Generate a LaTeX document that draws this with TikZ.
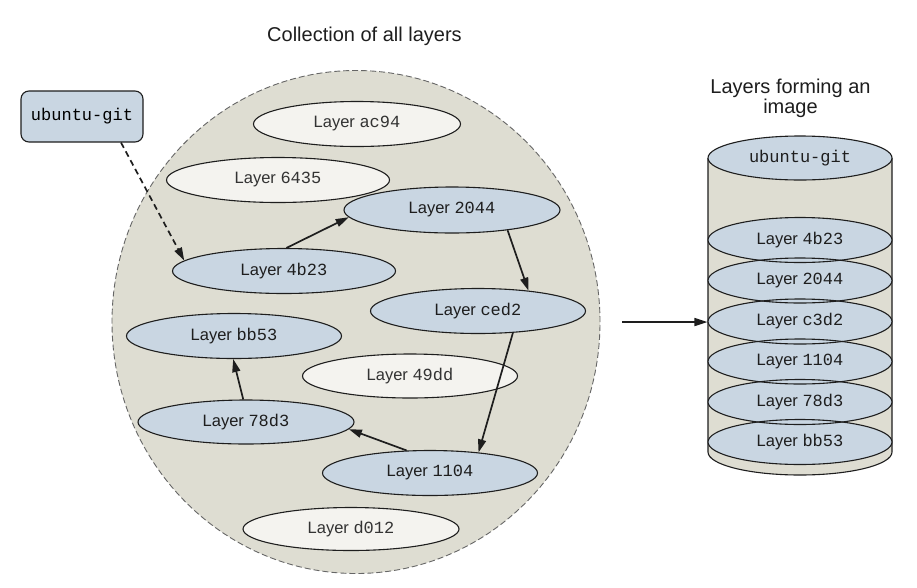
\documentclass[tikz,border=0pt]{standalone}
\usepackage{fontspec}
\setmainfont{Liberation Sans}
\newfontfamily\codefont{Liberation Mono}
\usetikzlibrary{shapes.geometric,arrows.meta}
\definecolor{lblue}{HTML}{C9D6E2}
\definecolor{offw}{HTML}{F4F3EF}
\definecolor{poolc}{HTML}{DEDDD2}
\definecolor{bd}{HTML}{1E1E1E}
\newcommand{\lid}[1]{{\codefont\fontsize{17}{18}\selectfont #1}}
\begin{document}
\begin{tikzpicture}[x=1pt,y=-1pt,
  lay/.style={ellipse,draw=bd,line width=1.1pt,inner sep=0pt,minimum width=215pt,minimum height=45pt,fill=lblue,text=bd,font=\fontsize{16.5}{18}\selectfont},
  other/.style={lay,fill=offw,text=black!80},
  cyl/.style={lay,draw=none,minimum width=184pt,minimum height=45pt},
  arr/.style={draw=bd,line width=1.7pt,-{Triangle[length=13pt,width=8pt]}},
  title/.style={font=\fontsize{20}{20}\selectfont,text=bd,inner sep=0pt}]
\useasboundingbox[fill=white] (0,0) rectangle (917,587);

% titles
\node[title,anchor=base] (t1) at (364.5,41) {Collection of all layers};
\node[title,align=center,anchor=north] (t2) at (790.5,79) {Layers forming an\\image};

% pool of layers
\node[ellipse,fill=poolc,draw=black!60,dash pattern=on 6pt off 3pt,line width=0.9pt,
      minimum width=488pt,minimum height=503pt,inner sep=0pt] (pool) at (356,322) {};

% ubuntu-git box
\node[draw=bd,fill=lblue,line width=1.1pt,rounded corners=8pt,minimum width=122pt,minimum height=51pt,inner sep=0pt] (ug) at (82,116.5) {\lid{ubuntu-git}};

% layers in the pool
\node[other,minimum width=207pt] (lac94) at (357,124) {Layer \lid{ac94}};
\node[other,minimum width=223pt] (l6435) at (278,180) {Layer \lid{6435}};
\node[lay,minimum width=216pt,minimum height=46pt] (l2044) at (452,210) {Layer \lid{2044}};
\node[lay,minimum width=223pt] (l4b23) at (284,271) {Layer \lid{4b23}};
\node[lay] (lced2) at (478,311) {Layer \lid{ced2}};
\node[lay] (lbb53) at (234,336) {Layer \lid{bb53}};
\node[other,minimum height=44pt] (l49dd) at (410,376) {Layer \lid{49dd}};
\node[lay,minimum width=216pt,minimum height=44pt] (l78d3) at (246,422) {Layer \lid{78d3}};
\node[lay] (l1104) at (430,473) {Layer \lid{1104}};
\node[other,minimum width=216pt,minimum height=43pt] (ld012) at (351,529) {Layer \lid{d012}};

% arrows in the pool
\draw[arr,dash pattern=on 6pt off 4pt] ([xshift=39pt]ug.south) -- (l4b23.174);
\draw[arr] (l4b23.84) -- (l2044.184);
\draw[arr] (l2044.-20) -- (lced2.22);
\draw[arr] (lced2.-32) -- (l1104.23);
\draw[arr] (l1104.136) -- (l78d3.-4.4);
\draw[arr] (l78d3.97) -- (lbb53.-92);

% cylinder
\path[fill=poolc] (708,158) -- (708,452) arc[start angle=180,end angle=0,x radius=92,y radius=23] -- (892,158) -- cycle;
\draw[draw=bd,line width=1.1pt] (708,158) -- (708,452) arc[start angle=180,end angle=0,x radius=92,y radius=23] -- (892,158);
\node[lay,minimum width=184pt,minimum height=44pt] (cug) at (800,158) {\lid{ubuntu-git}};
\node[cyl] (c4b23) at (800,240) {Layer \lid{4b23}};
\node[cyl] (c2044) at (800,280.5) {Layer \lid{2044}};
\node[cyl] (cc3d2) at (800,321.5) {Layer \lid{c3d2}};
\node[cyl] (c1104) at (800,361.5) {Layer \lid{1104}};
\node[cyl] (c78d3) at (800,402) {Layer \lid{78d3}};
\node[cyl] (cbb53) at (800,442) {Layer \lid{bb53}};
\foreach \n in {c4b23,c2044,cc3d2,c1104,c78d3,cbb53}
  \draw[draw=bd,line width=1.1pt] (\n.center) ellipse[x radius=92,y radius=22.5];

% arrow to the image
\draw[arr] ([xshift=22pt]pool.east) -- (pool.east -| cc3d2.west);
\end{tikzpicture}
\end{document}
